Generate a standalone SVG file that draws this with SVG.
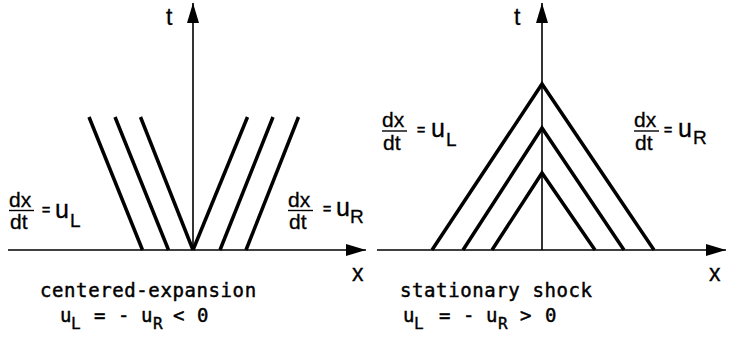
<svg xmlns="http://www.w3.org/2000/svg" width="729" height="342" viewBox="0 0 729 342">
<defs>
<style>
.axis{stroke:#000;stroke-width:1.6;fill:none}
.char{stroke:#000;stroke-width:3.5;fill:none;stroke-linecap:butt;stroke-linejoin:miter}
.lbl{font-family:"Liberation Sans","DejaVu Sans",sans-serif;fill:#000;stroke:#000;stroke-width:0.3}
.frac{font-size:21px}
.eq{font-size:14px;stroke-width:0.6}
.big{font-size:25px}
.sub{font-size:19px}
.ax{font-size:23px}
.fl{stroke:#000;stroke-width:1.4}
.mono{font-family:"DejaVu Sans Mono","Liberation Mono",monospace;font-size:19px;letter-spacing:0.6px;fill:#000;stroke:#000;stroke-width:0.45}
.monosub{font-family:"DejaVu Sans Mono","Liberation Mono",monospace;font-size:16px;fill:#000;stroke:#000;stroke-width:0.4}
</style>
<marker id="arr" viewBox="0 0 20 12" refX="20" refY="6" markerWidth="20" markerHeight="12" markerUnits="userSpaceOnUse" orient="auto">
<path d="M0,0 L20,6 L0,12 Z" fill="#000"/>
</marker>
</defs>
<rect width="729" height="342" fill="#fff"/>

<g id="connectors">
<line class="axis" x1="8" y1="250" x2="366" y2="250" marker-end="url(#arr)"/>
<line class="axis" x1="193" y1="250" x2="193" y2="3" marker-end="url(#arr)"/>
<line class="axis" x1="377" y1="250" x2="726" y2="250" marker-end="url(#arr)"/>
<line class="axis" x1="542" y1="250" x2="542" y2="3" marker-end="url(#arr)"/>
<line class="char" x1="89" y1="117" x2="142.5" y2="250"/>
<line class="char" x1="115" y1="117" x2="168.5" y2="250"/>
<line class="char" x1="140.5" y1="117" x2="193" y2="250"/>
<line class="char" x1="193" y1="250" x2="247.5" y2="117"/>
<line class="char" x1="220" y1="250" x2="273" y2="117"/>
<line class="char" x1="246" y1="250" x2="298.5" y2="117"/>
<polyline class="char" points="432,250 542,84 654,250"/>
<polyline class="char" points="463,250 542,128 624,250"/>
<polyline class="char" points="492,250 542,173 595,250"/>
</g>

<g id="left-axis-labels">
<text class="lbl ax" x="166" y="25">t</text>
<text class="lbl ax" x="352" y="281">x</text>
</g>

<g id="left-label-uL">
<text class="lbl frac" x="9" y="207">dx</text>
<line class="fl" x1="9" y1="210.5" x2="34" y2="210.5"/>
<text class="lbl frac" x="10" y="229">dt</text>
<text class="lbl eq" x="42" y="215">=</text>
<text class="lbl big" x="55" y="218">u</text>
<text class="lbl sub" x="70" y="227">L</text>
</g>

<g id="left-label-uR">
<text class="lbl frac" x="288" y="207">dx</text>
<line class="fl" x1="288" y1="210.5" x2="313" y2="210.5"/>
<text class="lbl frac" x="289" y="229">dt</text>
<text class="lbl eq" x="323" y="214">=</text>
<text class="lbl big" x="336" y="216">u</text>
<text class="lbl sub" x="350" y="223">R</text>
</g>

<g id="left-caption">
<text class="mono" x="40" y="297">centered-expansion</text>
<text class="mono" x="60" y="322">u</text>
<text class="monosub" x="71" y="329">L</text>
<text class="mono" x="94" y="322">=</text>
<text class="mono" x="118" y="322">-</text>
<text class="mono" x="141" y="322">u</text>
<text class="monosub" x="153" y="329">R</text>
<text class="mono" x="173" y="322">&lt;</text>
<text class="mono" x="197" y="322">0</text>
</g>

<g id="right-axis-labels">
<text class="lbl ax" x="514" y="25">t</text>
<text class="lbl ax" x="709" y="281">x</text>
</g>

<g id="right-label-uL">
<text class="lbl frac" x="382" y="127">dx</text>
<line class="fl" x1="382" y1="131" x2="407" y2="131"/>
<text class="lbl frac" x="383" y="150">dt</text>
<text class="lbl eq" x="417" y="135">=</text>
<text class="lbl big" x="431" y="137">u</text>
<text class="lbl sub" x="446" y="146">L</text>
</g>

<g id="right-label-uR">
<text class="lbl frac" x="634" y="127">dx</text>
<line class="fl" x1="634" y1="131" x2="659" y2="131"/>
<text class="lbl frac" x="635" y="150">dt</text>
<text class="lbl eq" x="664" y="135">=</text>
<text class="lbl big" x="678" y="137">u</text>
<text class="lbl sub" x="693" y="144">R</text>
</g>

<g id="right-caption">
<text class="mono" x="400" y="297">stationary shock</text>
<text class="mono" x="403" y="322">u</text>
<text class="monosub" x="414" y="329">L</text>
<text class="mono" x="439" y="322">=</text>
<text class="mono" x="463" y="322">-</text>
<text class="mono" x="486" y="322">u</text>
<text class="monosub" x="498" y="329">R</text>
<text class="mono" x="520" y="322">&gt;</text>
<text class="mono" x="545" y="322">0</text>
</g>
</svg>
